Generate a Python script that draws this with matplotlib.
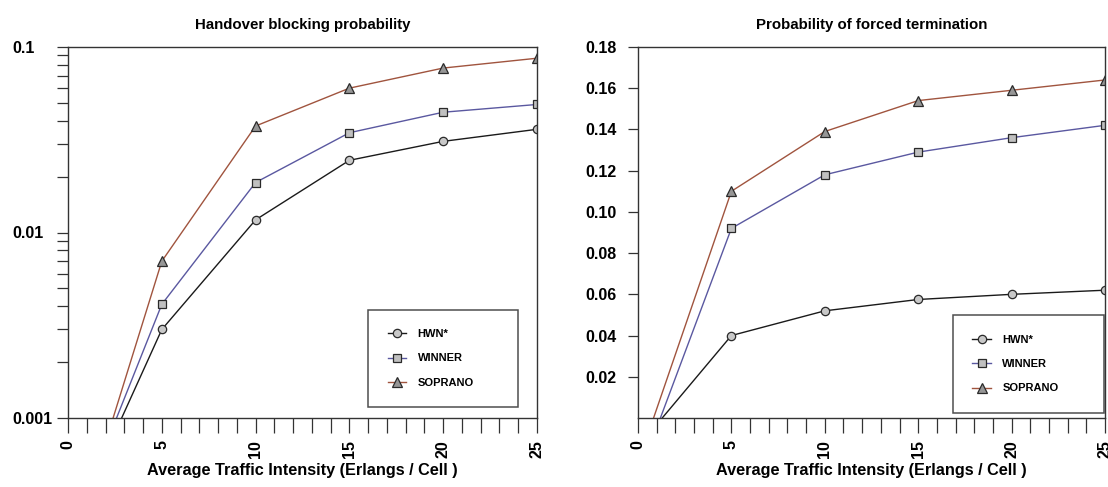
import matplotlib
matplotlib.use('Agg')
import matplotlib.pyplot as plt
from matplotlib.ticker import LogLocator, NullFormatter, MultipleLocator, FixedLocator

plt.rcParams['font.family'] = ['Liberation Sans', 'DejaVu Sans']
plt.rcParams['font.weight'] = 'bold'

# traffic intensity (Erlangs / cell); first point lies outside the visible range
traffic = [0, 5, 10, 15, 20, 25]

# handover blocking probability (log scale)
hbp_hwn = [2.3e-4, 0.0030, 0.0117, 0.0245, 0.0310, 0.0360]
hbp_winner = [2.2e-4, 0.0041, 0.0186, 0.0345, 0.0445, 0.0490]
hbp_soprano = [1.65e-4, 0.0070, 0.0375, 0.0600, 0.0770, 0.0870]

# probability of forced termination
pft_hwn = [-0.014, 0.040, 0.052, 0.0575, 0.060, 0.062]
pft_winner = [-0.029, 0.092, 0.118, 0.129, 0.136, 0.142]
pft_soprano = [-0.022, 0.110, 0.139, 0.154, 0.159, 0.164]

series_names = ['HWN*', 'WINNER', 'SOPRANO']
x_label = 'Average Traffic Intensity (Erlangs / Cell )'

line_colors = ['#1a1a1a', '#5a58a0', '#a0543e']
markers = ['o', 's', '^']
marker_faces = ['#c8c8c8', '#c0c0c0', '#969696']
marker_sizes = [6, 5.5, 7]
edge = '#2a2a2a'


def style_axes(ax):
    for sp in ax.spines.values():
        sp.set_color('#333333')
        sp.set_linewidth(1.0)
    ax.set_xlim(0, 25)
    ax.xaxis.set_major_locator(MultipleLocator(5))
    ax.xaxis.set_minor_locator(MultipleLocator(1))
    ax.tick_params(axis='x', which='both', direction='out', length=10.8,
                   width=0.9, color='#333333', pad=5, labelsize=11.5)
    for lab in ax.get_xticklabels():
        lab.set_rotation(90)
        lab.set_fontweight('bold')
    ax.set_xlabel(x_label, fontsize=11.7, fontweight='bold', labelpad=4)


def draw(ax, ys):
    for y, name, c, m, mf, ms in zip(ys, series_names, line_colors, markers,
                                     marker_faces, marker_sizes):
        ax.plot(traffic, y, color=c, lw=1.0, marker=m, markersize=ms,
                markerfacecolor=mf, markeredgecolor=edge, markeredgewidth=0.9,
                label=name)


def add_legend(ax, box):
    leg = ax.legend(loc='center', bbox_to_anchor=box, mode='expand',
                    fontsize=8, frameon=True, fancybox=False,
                    edgecolor='#222222', borderpad=1.75, labelspacing=1.3,
                    handlelength=1.7, handletextpad=1.0, borderaxespad=0)
    leg.get_frame().set_linewidth(1.1)
    for t in leg.get_texts():
        t.set_fontweight('bold')


fig = plt.figure(figsize=(11.08, 4.87), dpi=100)

# left: handover blocking probability
ax1 = fig.add_axes([68 / 1108, 1 - 418 / 487, 469 / 1108, 371 / 487])
draw(ax1, [hbp_hwn, hbp_winner, hbp_soprano])
ax1.set_yscale('log')
ax1.set_ylim(0.001, 0.1)
ax1.yaxis.set_major_locator(FixedLocator([0.001, 0.01, 0.1]))
ax1.yaxis.set_minor_locator(LogLocator(base=10, subs=range(2, 10)))
ax1.yaxis.set_minor_formatter(NullFormatter())
ax1.set_yticklabels(['0.001', '0.01', '0.1'])
ax1.tick_params(axis='y', which='both', direction='out', length=8,
                width=0.9, color='#333333', labelsize=11.5)
ax1.tick_params(axis='y', which='major', pad=32)
for lab in ax1.get_yticklabels():
    lab.set_horizontalalignment('left')
    lab.set_fontweight('bold')
style_axes(ax1)
ax1.set_title('Handover blocking probability', fontsize=10.8,
              fontweight='bold', pad=13)
add_legend(ax1, (0.640, 0.027, 0.319, 0.267))

# right: probability of forced termination
ax2 = fig.add_axes([638 / 1108, 1 - 418 / 487, 467 / 1108, 371 / 487])
draw(ax2, [pft_hwn, pft_winner, pft_soprano])
ax2.set_ylim(0, 0.18)
ax2.set_yticks([0.02, 0.04, 0.06, 0.08, 0.10, 0.12, 0.14, 0.16, 0.18])
ax2.set_yticklabels(['0.02', '0.04', '0.06', '0.08', '0.10', '0.12',
                     '0.14', '0.16', '0.18'])
ax2.tick_params(axis='y', direction='out', length=7.2, width=0.9,
                color='#333333', labelsize=11.5, pad=8)
for lab in ax2.get_yticklabels():
    lab.set_fontweight('bold')
style_axes(ax2)
ax2.set_title('Probability of forced termination', fontsize=10.8,
              fontweight='bold', pad=13)
add_legend(ax2, (0.6745, 0.0135, 0.3235, 0.264))

plt.savefig('out.png', dpi=100)
